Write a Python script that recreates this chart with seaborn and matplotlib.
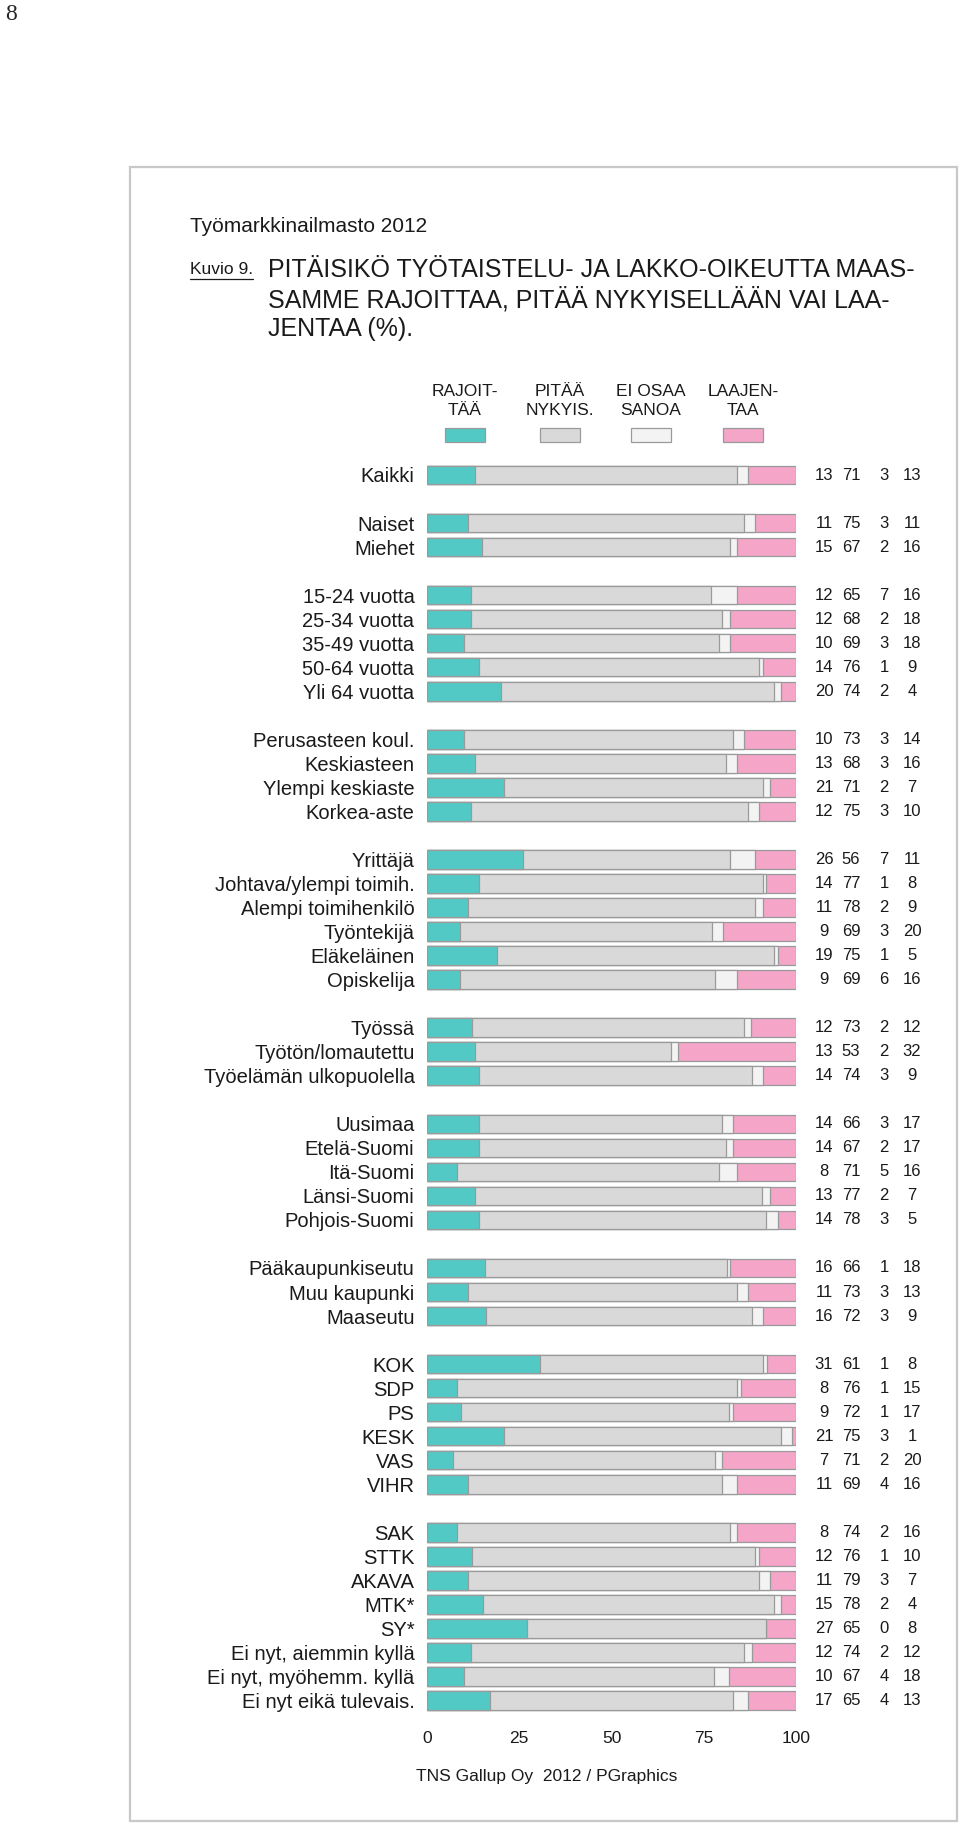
import matplotlib
matplotlib.use("Agg")
import matplotlib.pyplot as plt
import matplotlib.font_manager as fm
from matplotlib.patches import Rectangle
from matplotlib.lines import Line2D
import numpy as np
import pandas as pd
import seaborn as sns

W, H = 960, 1827

categories = [
    "Kaikki", None,
    "Naiset", "Miehet", None,
    "15-24 vuotta", "25-34 vuotta", "35-49 vuotta", "50-64 vuotta", "Yli 64 vuotta", None,
    "Perusasteen koul.", "Keskiasteen", "Ylempi keskiaste", "Korkea-aste", None,
    "Yrittäjä", "Johtava/ylempi toimih.", "Alempi toimihenkilö", "Työntekijä", "Eläkeläinen", "Opiskelija", None,
    "Työssä", "Työtön/lomautettu", "Työelämän ulkopuolella", None,
    "Uusimaa", "Etelä-Suomi", "Itä-Suomi", "Länsi-Suomi", "Pohjois-Suomi", None,
    "Pääkaupunkiseutu", "Muu kaupunki", "Maaseutu", None,
    "KOK", "SDP", "PS", "KESK", "VAS", "VIHR", None,
    "SAK", "STTK", "AKAVA", "MTK*", "SY*", "Ei nyt, aiemmin kyllä", "Ei nyt, myöhemm. kyllä", "Ei nyt eikä tulevais.",
]

rajoittaa = [13, 11, 15, 12, 12, 10, 14, 20, 10, 13, 21, 12, 26, 14, 11, 9, 19, 9, 12, 13, 14,
             14, 14, 8, 13, 14, 16, 11, 16, 31, 8, 9, 21, 7, 11, 8, 12, 11, 15, 27, 12, 10, 17]
pitaa = [71, 75, 67, 65, 68, 69, 76, 74, 73, 68, 71, 75, 56, 77, 78, 69, 75, 69, 73, 53, 74,
         66, 67, 71, 77, 78, 66, 73, 72, 61, 76, 72, 75, 71, 69, 74, 76, 79, 78, 65, 74, 67, 65]
ei_osaa = [3, 3, 2, 7, 2, 3, 1, 2, 3, 3, 2, 3, 7, 1, 2, 3, 1, 6, 2, 2, 3,
           3, 2, 5, 2, 3, 1, 3, 3, 1, 1, 1, 3, 2, 4, 2, 1, 3, 2, 0, 2, 4, 4]
laajentaa = [13, 11, 16, 16, 18, 18, 9, 4, 14, 16, 7, 10, 11, 8, 9, 20, 5, 16, 12, 32, 9,
             17, 17, 16, 7, 5, 18, 13, 9, 8, 15, 17, 1, 20, 16, 16, 10, 7, 4, 8, 12, 18, 13]

legend_labels = ["RAJOIT-\nTÄÄ", "PITÄÄ\nNYKYIS.", "EI OSAA\nSANOA", "LAAJEN-\nTAA"]
colors = ["#52C9C5", "#D9D9D9", "#F3F3F3", "#F5A5C8"]
ticks = [0, 25, 50, 75, 100]

title_top = "Työmarkkinailmasto 2012"
title_lines = ["PITÄISIKÖ TYÖTAISTELU- JA LAKKO-OIKEUTTA MAAS-",
               "SAMME RAJOITTAA, PITÄÄ NYKYISELLÄÄN VAI LAA-",
               "JENTAA (%)."]
source = "TNS Gallup Oy  2012 / PGraphics"

sns.set_theme(style="white")
names = {f.name for f in fm.fontManager.ttflist}
narrow = "Liberation Sans Narrow" if "Liberation Sans Narrow" in names else "Liberation Sans"
plt.rcParams["font.family"] = ["Liberation Sans", "DejaVu Sans"]

# slot names (blanks get unique placeholders)
order = []
labels = []
b = 0
for c in categories:
    if c is None:
        b += 1
        order.append("_blank%d" % b)
        labels.append("")
    else:
        order.append(c)
        labels.append(c)
real = [c for c in categories if c is not None]

df = pd.DataFrame({"group": real, "r": rajoittaa, "p": pitaa, "e": ei_osaa, "l": laajentaa})
tot = df[["r", "p", "e", "l"]].sum(axis=1)
for k in ["r", "p", "e", "l"]:
    df[k + "n"] = df[k] * 100.0 / tot
df["c1"] = df["rn"]
df["c2"] = df["rn"] + df["pn"]
df["c3"] = df["c2"] + df["en"]
df["c4"] = 100.0

fig = plt.figure(figsize=(W / 100, H / 100), dpi=100)
n = len(order)
slot = 24.03
y_first = 475.0
ax_top = y_first - slot / 2
ax_bot = ax_top + slot * n
ax = fig.add_axes([427 / W, 1 - ax_bot / H, (796 - 427) / W, (ax_bot - ax_top) / H])

# overlay cumulative bars, widest first
for col, color in zip(["c4", "c3", "c2", "c1"], colors[::-1]):
    sns.barplot(data=df, x=col, y="group", order=order, color=color, width=0.77,
                edgecolor="#9A9A9A", linewidth=0.9, saturation=1, ax=ax)

ax.set_xlim(0, 100)
ax.set_ylim(n - 0.5, -0.5)
ax.set_yticks(range(n))
ax.set_yticklabels(labels, fontsize=14.5, color="#1a1a1a")
ax.set_xticks(ticks)
ax.set_xticklabels([str(t) for t in ticks], fontsize=12.5, color="#1a1a1a")
ax.tick_params(axis="y", length=0, pad=9)
ax.tick_params(axis="x", length=5, width=0.8, color="#aaaaaa", pad=8, direction="out")
ax.set_xlabel("")
ax.set_ylabel("")
for s in ax.spines.values():
    s.set_visible(False)
ax.set_facecolor("none")

# value columns to the right
pos = {g: i for i, g in enumerate(order)}
col_x = [824, 851, 884, 912]
for _, row in df.iterrows():
    yi = pos[row["group"]]
    yp = 1 - (ax_top + slot * (yi + 0.5)) / H
    for cx, k in zip(col_x, ["r", "p", "e", "l"]):
        fig.text(cx / W, yp, str(int(row[k])), ha="center", va="center",
                 fontsize=12, color="#1a1a1a")

# legend
leg_x = [465, 560, 651, 743]
for cx, lab, color in zip(leg_x, legend_labels, colors):
    fig.text(cx / W, 1 - 401 / H, lab, ha="center", va="center", fontsize=12.5,
             family=[narrow, "DejaVu Sans"], linespacing=1.4, color="#1a1a1a")
    fig.add_artist(Rectangle(((cx - 20) / W, 1 - 442 / H), 40 / W, 14 / H,
                             transform=fig.transFigure, facecolor=color,
                             edgecolor="#9A9A9A", linewidth=0.9))

# frame
fig.add_artist(Rectangle((130 / W, 1 - 1821 / H), (957 - 130) / W, (1821 - 167) / H,
                         transform=fig.transFigure, fill=False,
                         edgecolor="#c8c8c8", linewidth=1.6))

fig.text(5 / W, 1 - 15 / H, "8", ha="left", va="center", fontsize=17,
         family=["Liberation Serif", "DejaVu Serif"])
fig.text(190 / W, 1 - 227 / H, title_top, ha="left", va="center", fontsize=15,
         family=[narrow, "DejaVu Sans"], color="#1a1a1a")
kuvio = fig.text(190 / W, 1 - 270 / H, "Kuvio 9.", ha="left", va="center", fontsize=12.5,
                 family=[narrow, "DejaVu Sans"], color="#1a1a1a")
for i, line in enumerate(title_lines):
    fig.text(268 / W, 1 - (270 + 29.5 * i) / H, line, ha="left", va="center",
             fontsize=18, family=[narrow, "DejaVu Sans"], color="#1a1a1a")
fig.text(416 / W, 1 - 1777 / H, source, ha="left", va="center", fontsize=12.5,
         color="#1a1a1a")

fig.canvas.draw()
bb = kuvio.get_window_extent()
fig.add_artist(Line2D([bb.x0 / W, bb.x1 / W], [(bb.y0 - 1) / H, (bb.y0 - 1) / H],
                      transform=fig.transFigure, color="#1a1a1a", linewidth=0.9))

fig.savefig("out.png", dpi=100, facecolor="white")
